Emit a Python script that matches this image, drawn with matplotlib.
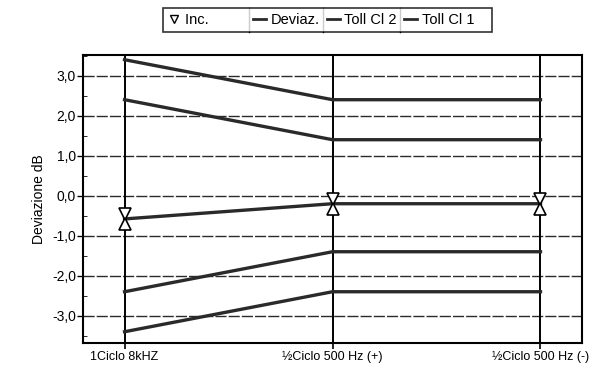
import matplotlib.pyplot as plt
import numpy as np
from matplotlib.lines import Line2D
from matplotlib.ticker import FuncFormatter, MultipleLocator

plt.rcParams['font.family'] = ['Liberation Sans', 'DejaVu Sans']

categories = ['1Ciclo 8kHZ', '½Ciclo 500 Hz (+)', '½Ciclo 500 Hz (-)']
deviaz = [-0.58, -0.2, -0.2]
inc = [0.13, 0.13, 0.13]
toll_cl1_up = [3.4, 2.4, 2.4]
toll_cl1_lo = [-3.4, -2.4, -2.4]
toll_cl2_up = [2.4, 1.4, 1.4]
toll_cl2_lo = [-2.4, -1.4, -1.4]

x = np.arange(len(categories))
ink = '#2a2a2a'

fig = plt.figure(figsize=(5.97, 3.66), dpi=100)
ax = fig.add_axes([0.139, 0.063, 0.836, 0.787])

# grid: dashed horizontals, solid verticals at each category
for yv in range(-3, 4):
    ax.axhline(yv, color=ink, linewidth=1.0, linestyle=(0, (8, 1.5)), zorder=1)
for xv in x:
    ax.axvline(xv, color='black', linewidth=1.4, zorder=1)

for ys in [toll_cl1_up, toll_cl1_lo]:
    ax.plot(x, ys, color=ink, linewidth=2.4, zorder=3)
for ys in [toll_cl2_up, toll_cl2_lo]:
    ax.plot(x, ys, color=ink, linewidth=2.4, zorder=3)
ax.plot(x, deviaz, color=ink, linewidth=2.4, zorder=3)

dev = np.array(deviaz)
err = np.array(inc)
ax.plot(x, dev + err, linestyle='none', marker='v', markersize=8,
        markerfacecolor='white', markeredgecolor='black', markeredgewidth=1.2, zorder=4)
ax.plot(x, dev - err, linestyle='none', marker='^', markersize=8,
        markerfacecolor='white', markeredgecolor='black', markeredgewidth=1.2, zorder=4)

ax.set_xlim(-0.2, 2.2)
ax.set_ylim(-3.68, 3.52)
ax.set_xticks(x)
ax.set_xticklabels(categories, fontsize=9)
ax.set_yticks(range(-3, 4))
ax.yaxis.set_major_formatter(FuncFormatter(lambda v, p: f'{v:.1f}'.replace('.', ',')))
ax.yaxis.set_minor_locator(MultipleLocator(0.5))
ax.tick_params(axis='y', labelsize=10, length=4, width=1, pad=1)
ax.tick_params(axis='y', which='minor', direction='in', length=3)
ax.tick_params(axis='x', length=4, width=1.2, pad=2)
ax.set_ylabel('Deviazione dB', fontsize=10, labelpad=4)

for s in ax.spines.values():
    s.set_linewidth(1.5)
    s.set_color('black')

handles = [
    Line2D([], [], linestyle='none', marker='v', markersize=6,
           markerfacecolor='white', markeredgecolor='black'),
    Line2D([], [], color=ink, linewidth=2),
    Line2D([], [], color=ink, linewidth=2),
    Line2D([], [], color=ink, linewidth=2),
]
labels = ['Inc.         ', 'Deviaz.', 'Toll Cl 2', 'Toll Cl 1   ']
leg = fig.legend(handles, labels, ncol=4, loc='center', bbox_to_anchor=(0.548, 0.945),
                 fontsize=10.5, frameon=True, fancybox=False, edgecolor='black',
                 handlelength=0.9, handletextpad=0.3, columnspacing=0.5,
                 borderpad=0.35, borderaxespad=0)
leg.get_frame().set_linewidth(1.2)

# vertical separators between legend entries
fig.canvas.draw()
inv = fig.transFigure.inverted()
fb = leg.get_frame().get_window_extent()
y0, y1 = inv.transform((0, fb.y0))[1], inv.transform((0, fb.y1))[1]
texts = leg.get_texts()
for t in texts[:-1]:
    r = t.get_window_extent().x1
    xs = inv.transform((r + 3, 0))[0]
    fig.add_artist(Line2D([xs, xs], [y0, y1], color='black', linewidth=1.0,
                          transform=fig.transFigure))

fig.savefig('out.png', dpi=100)
